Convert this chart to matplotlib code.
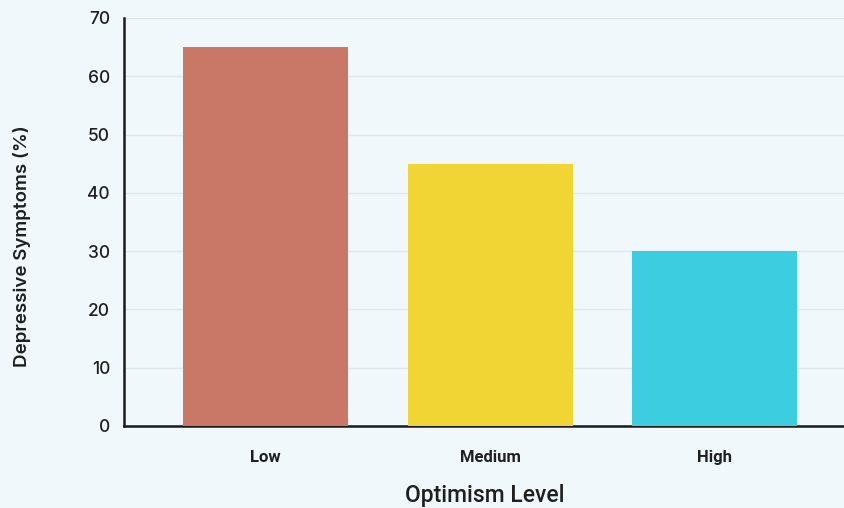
import matplotlib
matplotlib.use("Agg")
import matplotlib.pyplot as plt

categories = ["Low", "Medium", "High"]
values = [65, 45, 30]
colors = ["#c97766", "#f0d535", "#3ccde0"]
yticks = [0, 10, 20, 30, 40, 50, 60, 70]

bg = "#f0f8fc"
fig = plt.figure(figsize=(8.45, 5.08), dpi=100, facecolor=bg)
ax = fig.add_axes([124/845, 82/508, (845-124)/845, 408/508])
ax.set_facecolor(bg)

x = range(len(categories))
ax.bar(x, values, width=0.735, color=colors, zorder=3)
ax.set_xlim(-0.63, 2.58)
ax.set_ylim(0, 70)
ax.set_yticks(yticks)
ax.set_xticks(list(x))
ax.set_xticklabels(categories, fontfamily="Roboto", fontweight="bold", fontsize=12, color="#1f1f1f")
for lab in ax.get_yticklabels():
    lab.set_fontfamily("Inter")
    lab.set_fontweight("medium")
    lab.set_fontsize(12.5)
    lab.set_color("#1f1f1f")
ax.tick_params(axis="both", length=0)
ax.tick_params(axis="y", pad=10)
ax.tick_params(axis="x", pad=17)
ax.yaxis.grid(True, color="#dce8ee", linewidth=1, zorder=0)
ax.set_axisbelow(True)
for s in ["top", "right"]:
    ax.spines[s].set_visible(False)
for s in ["left", "bottom"]:
    ax.spines[s].set_color("#1a1a1a")
    ax.spines[s].set_linewidth(1.8)

ax.set_xlabel("Optimism Level", fontfamily="Roboto", fontweight="medium", fontsize=16.5, color="#1f1f1f", labelpad=14)
fig.text(22/845, 1 - 246/508, "Depressive Symptoms (%)", rotation=90, ha="center", va="center",
         fontfamily="Inter", fontweight="semibold", fontsize=13.5, color="#1f1f1f")

fig.savefig("out.png", dpi=100, facecolor=bg)
